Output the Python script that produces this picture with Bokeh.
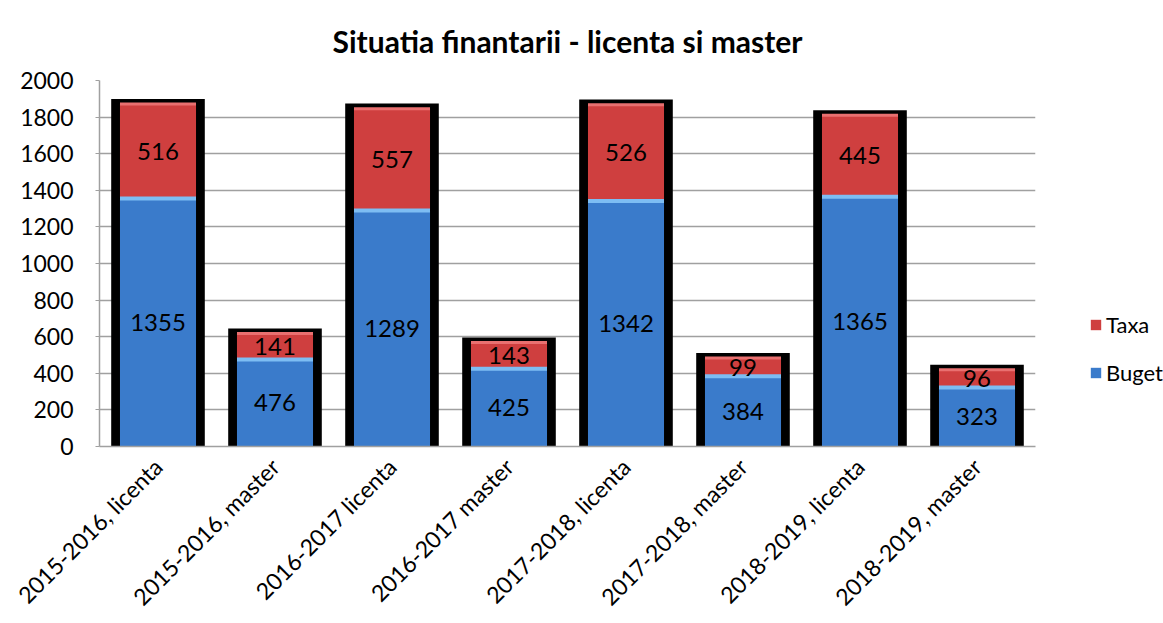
from bokeh.plotting import figure
from bokeh.models import ColumnDataSource, FactorRange, Range1d, FixedTicker, Legend, LegendItem, LabelSet
from bokeh.embed import file_html
from bokeh.resources import INLINE
from bokeh.core.properties import value

categories = ["2015-2016, licenta", "2015-2016, master", "2016-2017 licenta", "2016-2017 master",
              "2017-2018, licenta", "2017-2018, master", "2018-2019, licenta", "2018-2019, master"]
buget = [1355, 476, 1289, 425, 1342, 384, 1365, 323]
taxa = [516, 141, 557, 143, 526, 99, 445, 96]
y_ticks = [0, 200, 400, 600, 800, 1000, 1200, 1400, 1600, 1800, 2000]

FONT = "Lato"
BLUE = "#3A7BCB"
BLUE_LIGHT = "#7DBDF3"
RED = "#CF3F3F"
RED_LIGHT = "#E97070"

total = [b + t for b, t in zip(buget, taxa)]
src = ColumnDataSource(dict(
    cat=categories, buget=buget, taxa=taxa, total=total,
    shadow_top=[v + 28 for v in total],
    buget_mid=[b / 2 for b in buget],
    taxa_mid=[b + t / 2 for b, t in zip(buget, taxa)],
    buget_lbl=[str(v) for v in buget],
    taxa_lbl=[str(v) for v in taxa],
    zero=[0] * len(categories),
))

p = figure(frame_width=936, frame_height=366, x_range=FactorRange(*categories), y_range=Range1d(0, 2000),
           output_backend="svg", toolbar_location=None,
           min_border_left=99, min_border_right=124, min_border_top=80, min_border_bottom=150,
           title="Situatia finantarii - licenta si master")
p.x_range.range_padding = 0
p.outline_line_color = None

p.title.align = "center"
p.title.vertical_align = "top"
p.title.text_font = FONT
p.title.text_font_style = "bold"
p.title.text_font_size = "30px"
p.title.text_color = "black"
p.title.standoff = 40

# black shadow behind bars
p.vbar(x="cat", top="shadow_top", bottom="zero", width=0.80, source=src, fill_color="black", line_color=None)
rb = p.vbar(x="cat", top="buget", bottom="zero", width=0.65, source=src, fill_color=BLUE, line_color=None)
rt = p.vbar(x="cat", top="total", bottom="buget", width=0.65, source=src, fill_color=RED, line_color=None)
# bevel highlights at the top of each segment
p.vbar(x="cat", top="buget", bottom="buget", width=0.65, source=src, line_color=BLUE_LIGHT, line_width=4, fill_color=None)
p.vbar(x="cat", top="total", bottom="total", width=0.65, source=src, line_color=RED_LIGHT, line_width=3, fill_color=None)

for ycol, tcol in (("buget_mid", "buget_lbl"), ("taxa_mid", "taxa_lbl")):
    p.add_layout(LabelSet(x="cat", y=ycol, text=tcol, source=src, text_align="center",
                          text_baseline="middle", text_font=value(FONT), text_font_size="24px",
                          text_color="black"))

p.yaxis.ticker = FixedTicker(ticks=y_ticks)
p.yaxis.major_label_text_font = FONT
p.yaxis.major_label_text_font_size = "23px"
p.yaxis.major_label_text_color = "black"
p.yaxis.axis_line_color = "#A0A0A0"
p.yaxis.axis_line_width = 1.5
p.yaxis.major_tick_line_color = "#A0A0A0"
p.yaxis.major_tick_out = 4
p.yaxis.major_tick_in = 0
p.yaxis.minor_tick_line_color = None
p.yaxis.major_label_standoff = 22

p.xaxis.major_label_orientation = 0.785398
p.xaxis.major_label_text_font = FONT
p.xaxis.major_label_text_font_size = "23px"
p.xaxis.major_label_text_color = "black"
p.xaxis.axis_line_color = "#A0A0A0"
p.xaxis.axis_line_width = 1.5
p.xaxis.major_tick_line_color = None
p.xaxis.major_label_standoff = 10

p.xgrid.grid_line_color = None
p.ygrid.grid_line_color = "#A0A0A0"
p.ygrid.grid_line_width = 1.5

legend = Legend(items=[LegendItem(label="Taxa", renderers=[rt]), LegendItem(label="Buget", renderers=[rb])],
                location=(54, 60), orientation="vertical",
                label_text_font=FONT, label_text_font_size="22px", label_text_color="black",
                glyph_width=13, glyph_height=13, spacing=21, label_standoff=4,
                border_line_color=None, background_fill_alpha=0, padding=0, margin=0)
p.add_layout(legend, "right")

open("out.html", "w").write(file_html(p, INLINE))
